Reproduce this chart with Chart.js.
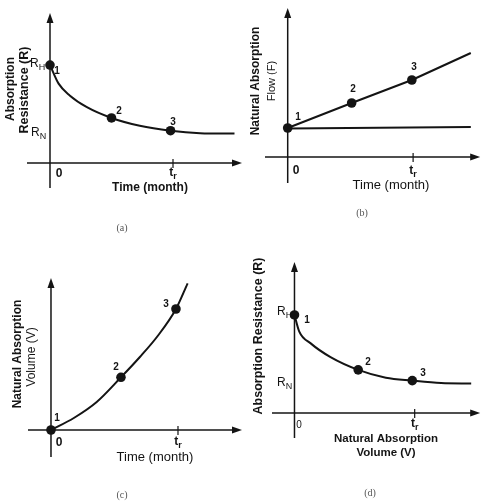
<!DOCTYPE html>
<html>
<head>
<meta charset="utf-8">
<script src="https://cdn.jsdelivr.net/npm/chart.js@4"></script>
<style>
  html,body{margin:0;padding:0;background:#fff;}
  #wrap{position:relative;width:485px;height:504px;overflow:hidden;}
  #wrap canvas{position:absolute;left:0;top:0;}
</style>
</head>
<body>
<div id="wrap">
  <canvas id="ca" width="485" height="504"></canvas>
  <canvas id="cb" width="485" height="504"></canvas>
  <canvas id="cc" width="485" height="504"></canvas>
  <canvas id="cd" width="485" height="504"></canvas>
</div>
<script>
// ---------------- data ----------------
const tR = 1;                       // position of t_r on the time / volume axis
const pointLabels = ["1", "2", "3"];

// (a) absorption resistance vs time
const resTimeX = [0, 0.07, 0.16, 0.30, 0.50, 0.73, 0.98, 1.22, 1.50];
const resTimeY = [1, 0.81, 0.69, 0.57, 0.46, 0.38, 0.33, 0.305, 0.30];
const resTimeMarkX = [0, 0.50, 0.98];
const resTimeMarkY = [1, 0.46, 0.33];

// (b) natural absorption flow vs time
const flowX = [0, 0.51, 0.99, 1.46];
const flowY = [0.29, 0.54, 0.77, 1.04];
const flowBaseX = [0, 1.46];
const flowBaseY = [0.285, 0.30];
const flowMarkX = [0, 0.51, 0.99];
const flowMarkY = [0.29, 0.54, 0.77];

// (c) natural absorption volume vs time
const volX = [0, 0.18, 0.36, 0.551, 0.70, 0.84, 0.984, 1.076];
const volY = [0, 0.12, 0.28, 0.527, 0.73, 0.94, 1.21, 1.467];
const volMarkX = [0, 0.551, 0.984];
const volMarkY = [0, 0.527, 1.21];

// (d) absorption resistance vs volume
const resVolX = [0, 0.04, 0.135, 0.30, 0.53, 0.76, 0.98, 1.22, 1.47];
const resVolY = [1, 0.83, 0.71, 0.57, 0.44, 0.36, 0.33, 0.305, 0.30];
const resVolMarkX = [0, 0.53, 0.98];
const resVolMarkY = [1, 0.44, 0.33];

// ---------------- helpers ----------------
const INK = '#141414';
const zip = (xs, ys) => xs.map((x, i) => ({x: x, y: ys[i]}));

function subText(ctx, base, sub, x, y, size, weight, align) {
  ctx.save();
  const fam = '"Liberation Sans", Arial, sans-serif';
  ctx.font = weight + ' ' + size + 'px ' + fam;
  const w1 = ctx.measureText(base).width;
  ctx.font = weight + ' ' + Math.round(size * 0.72) + 'px ' + fam;
  const w2 = ctx.measureText(sub).width;
  let left = align === 'center' ? x - (w1 + w2) / 2 : x;
  ctx.textAlign = 'left';
  ctx.textBaseline = 'middle';
  ctx.fillStyle = INK;
  ctx.font = weight + ' ' + size + 'px ' + fam;
  ctx.fillText(base, left, y);
  ctx.font = weight + ' ' + Math.round(size * 0.72) + 'px ' + fam;
  ctx.fillText(sub, left + w1, y + size * 0.28);
  ctx.restore();
}

function text(ctx, s, x, y, font, rot, color) {
  ctx.save();
  ctx.translate(x, y);
  if (rot) ctx.rotate(rot);
  ctx.font = font;
  ctx.fillStyle = color || INK;
  ctx.textAlign = 'center';
  ctx.textBaseline = 'middle';
  ctx.fillText(s, 0, 0);
  ctx.restore();
}

const sketchPlugin = {
  id: 'sketch',
  beforeDatasetsDraw(chart, args, o) {
    const ctx = chart.ctx, a = chart.chartArea;
    const xs = chart.scales.x, ys = chart.scales.y;
    const x0 = xs.getPixelForValue(0), y0 = ys.getPixelForValue(0);
    ctx.save();
    ctx.strokeStyle = INK; ctx.fillStyle = INK; ctx.lineWidth = 1.5;
    // x axis
    ctx.beginPath(); ctx.moveTo(a.left, y0); ctx.lineTo(a.right - 6, y0); ctx.stroke();
    ctx.beginPath(); ctx.moveTo(a.right, y0); ctx.lineTo(a.right - 10, y0 - 3.5); ctx.lineTo(a.right - 10, y0 + 3.5); ctx.closePath(); ctx.fill();
    // y axis
    ctx.beginPath(); ctx.moveTo(x0, a.bottom); ctx.lineTo(x0, a.top + 6); ctx.stroke();
    ctx.beginPath(); ctx.moveTo(x0, a.top); ctx.lineTo(x0 - 3.5, a.top + 10); ctx.lineTo(x0 + 3.5, a.top + 10); ctx.closePath(); ctx.fill();
    // t_r tick
    const xt = xs.getPixelForValue(tR);
    ctx.lineWidth = 1.2;
    ctx.beginPath(); ctx.moveTo(xt, y0 - 4); ctx.lineTo(xt, y0 + 5); ctx.stroke();
    ctx.restore();
  },
  afterDatasetsDraw(chart, args, o) {
    const ctx = chart.ctx;
    const xs = chart.scales.x, ys = chart.scales.y;
    // point numbers
    o.nums.forEach((p, i) => text(ctx, pointLabels[i], p[0], p[1], 'bold 10px "Liberation Sans", Arial, sans-serif'));
    // origin and t_r labels
    text(ctx, '0', o.zero[0], o.zero[1], o.zeroFont);
    subText(ctx, 't', 'r', xs.getPixelForValue(tR), o.trY, 12, 'bold', 'center');
    // R_H / R_N
    if (o.rh) {
      subText(ctx, 'R', 'H', o.rh[0], o.rh[1], 12, 'normal', 'left');
      subText(ctx, 'R', 'N', o.rn[0], o.rn[1], 12, 'normal', 'left');
    }
    // titles
    o.titles.forEach(t => text(ctx, t.s, t.x, t.y, t.font, t.rot ? -Math.PI / 2 : 0));
    // caption
    text(ctx, o.caption[0], o.caption[1], o.caption[2], '10px "Liberation Serif", "DejaVu Serif", serif', 0, '#555');
  }
};

function makePanel(id, area, range, datasets, labels) {
  const W = 485, H = 504;
  new Chart(document.getElementById(id), {
    type: 'scatter',
    data: {datasets: datasets},
    options: {
      responsive: false, animation: false, events: [],
      layout: {padding: {left: area[0], top: area[1], right: W - area[2], bottom: H - area[3]}},
      scales: {
        x: {type: 'linear', display: false, min: range[0], max: range[1]},
        y: {type: 'linear', display: false, min: range[2], max: range[3]}
      },
      plugins: {legend: {display: false}, tooltip: {enabled: false}, sketch: labels}
    },
    plugins: [sketchPlugin]
  });
}

const curve = (xs, ys, tension) => ({
  data: zip(xs, ys), showLine: true, borderColor: INK, borderWidth: 2,
  pointRadius: 0, tension: tension, cubicInterpolationMode: tension ? 'monotone' : 'default', clip: false
});
const marks = (xs, ys) => ({
  data: zip(xs, ys), showLine: false, pointRadius: 4.8, pointBackgroundColor: INK,
  pointBorderColor: INK, pointBorderWidth: 0, clip: false
});

const B12 = 'bold 12px "Liberation Sans", Arial, sans-serif';
const N13 = '13px "Liberation Sans", Arial, sans-serif';

// (a)
makePanel('ca', [27, 13, 242, 188], [-0.187, 1.561, -0.255, 1.531],
  [curve(resTimeX, resTimeY, 0.4), marks(resTimeMarkX, resTimeMarkY)],
  {nums: [[57, 71], [119, 111], [173, 122]], zero: [59, 174], zeroFont: B12, trY: 173,
   rh: [30, 64], rn: [31, 133],
   titles: [{s: 'Time (month)', x: 150, y: 188, font: B12},
            {s: 'Absorption', x: 11, y: 89, font: B12, rot: 1},
            {s: 'Resistance (R)', x: 25, y: 90, font: 'bold 12.5px "Liberation Sans", Arial, sans-serif', rot: 1}],
   caption: ['(a)', 122, 228]});

// (b)
makePanel('cb', [265, 8, 483, 183], [-0.181, 1.535, -0.26, 1.49],
  [curve(flowX, flowY, 0), curve(flowBaseX, flowBaseY, 0), marks(flowMarkX, flowMarkY)],
  {nums: [[298, 117], [353, 89], [414, 67]], zero: [296, 171], zeroFont: B12, trY: 171,
   titles: [{s: 'Time (month)', x: 391, y: 185, font: N13},
            {s: 'Natural Absorption', x: 256, y: 81, font: B12, rot: 1},
            {s: 'Flow (F)', x: 272, y: 81, font: '11px "Liberation Sans", Arial, sans-serif', rot: 1}],
   caption: ['(b)', 362, 213]});

// (c)
makePanel('cc', [28, 278, 242, 457], [-0.181, 1.504, -0.27, 1.52],
  [curve(volX, volY, 0.4), marks(volMarkX, volMarkY)],
  {nums: [[57, 418], [116, 367], [166, 304]], zero: [59, 443], zeroFont: B12, trY: 442,
   titles: [{s: 'Time (month)', x: 155, y: 457, font: N13},
            {s: 'Natural Absorption', x: 18, y: 354, font: B12, rot: 1},
            {s: 'Volume (V)', x: 32, y: 357, font: '12px "Liberation Sans", Arial, sans-serif', rot: 1}],
   caption: ['(c)', 122, 495]});

// (d)
makePanel('cd', [272, 262, 485, 438], [-0.187, 1.545, -0.255, 1.54],
  [curve(resVolX, resVolY, 0.4), marks(resVolMarkX, resVolMarkY)],
  {nums: [[307, 320], [368, 362], [423, 373]], zero: [299, 425], zeroFont: '10px "Liberation Sans", Arial, sans-serif', trY: 424,
   rh: [277, 312], rn: [277, 383],
   titles: [{s: 'Natural Absorption', x: 386, y: 439, font: 'bold 11.5px "Liberation Sans", Arial, sans-serif'},
            {s: 'Volume (V)', x: 386, y: 453, font: 'bold 11.5px "Liberation Sans", Arial, sans-serif'},
            {s: 'Absorption Resistance (R)', x: 259, y: 336, font: 'bold 12.5px "Liberation Sans", Arial, sans-serif', rot: 1}],
   caption: ['(d)', 370, 493]});
</script>
</body>
</html>
